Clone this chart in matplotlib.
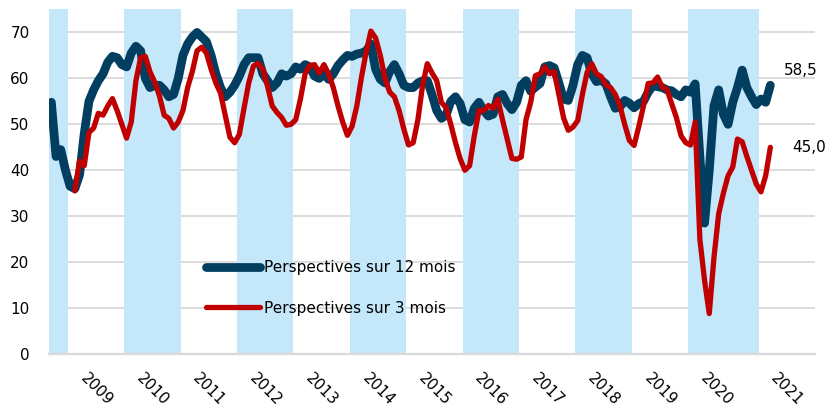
import numpy as np
import matplotlib.pyplot as plt

# monthly survey balances, sept 2008 -> march 2021 (2020 has 15 releases)
years = ["2009", "2010", "2011", "2012", "2013", "2014", "2015",
         "2016", "2017", "2018", "2019", "2020", "2021"]
points_per_year = [4] + [12] * 11 + [15, 12]   # first block = end of 2008

outlook_12m = [
    54.8, 43, 44.5, 40, 36.5, 36, 39, 48, 55, 57.5, 59.5, 61, 63.5, 64.8, 64.5, 63,
    62.5, 65.5, 67, 66, 60, 58, 58.5, 58.5, 57.5, 56, 56.5, 60, 65, 67.5, 69, 70,
    69, 68, 65, 61, 58, 56, 57, 58.5, 60.5, 63, 64.5, 64.5, 64.5, 61, 59.5, 58,
    59, 61, 60.5, 61, 62.5, 62, 63, 62.5, 60.5, 60, 61, 59.8, 61, 62.8, 64, 65,
    64.8, 65.3, 65.5, 66, 67.5, 62, 59.8, 59, 61.5, 63, 61, 58.5, 58, 58, 59, 59.5,
    59.5, 56.5, 53, 51.3, 52, 55, 56, 54.5, 51, 50.5, 53.5, 54.8, 53, 51.8, 52.2, 56,
    56.5, 54.5, 53.2, 54.8, 58.5, 59.5, 57.2, 58.1, 58.9, 62.5, 62.8, 62.3, 59, 55.5,
    55.2, 58.5, 63, 65, 64.5, 61, 59.3, 59.6, 58.8, 56, 53.5, 53.8, 55.2, 54.6, 53.6,
    54.5, 55, 57, 58.4, 58.2, 58, 57.5, 57.3, 56.5, 56, 57.5, 57, 58.8, 43, 28.5,
    40, 54, 57.5, 52.2, 50, 54.8, 58, 61.8, 58, 56, 54.3, 55.5, 54.8, 58.5,
]

outlook_3m = [np.nan] * 5 + [
    35.5, 42, 41, 48.2, 49.2, 52.4, 52, 54, 55.6, 53, 50, 47, 50.5, 59.5, 64.5, 64.8,
    61.4, 59.2, 56.2, 52, 51.3, 49.2,
    50.5, 53, 58, 61.5, 66, 66.8, 65.5, 62, 59, 56.8, 52, 47.2, 46, 47.8, 53.5, 59,
    62.7, 63.3, 62, 58.3, 54, 52.6, 51.5, 49.8, 50, 51,
    55.5, 61, 62.8, 63, 61.2, 63, 61, 58, 54, 50.5, 47.6, 49.6, 54, 60.3, 65.8, 70.3,
    68.8, 65, 60, 57, 56, 53, 49, 45.5, 46, 51,
    58.5, 63.2, 61.2, 59.5, 54.8, 53.6, 50, 46, 42.5, 40, 41, 47.5, 53, 53, 54.1, 53.5,
    55.5, 51, 46.8, 42.6, 42.4, 42.9, 51, 54.8, 60.6, 61, 62.5,
    61, 61.5, 56.5, 51.4, 48.7, 49.4, 50.8, 56.5, 61.3, 63.2, 61, 60.4, 58.6, 58, 56.5,
    54, 50, 46.5, 45.4, 49.5, 54, 58.9, 59, 60.3, 58.1, 57.6, 54.5,
    51.5, 47.5, 46, 45.5, 50.5, 25, 16, 8.8, 21, 30.5, 35, 38.8, 40.7, 46.8, 46.2, 43,
    40, 37, 35.3, 38.8, 45,
]

blue = "#013E60"
red = "#C00000"
band = "#C4E7FA"

plt.rcParams["font.family"] = "DejaVu Sans"

fig = plt.figure(figsize=(8.26, 4.11), dpi=100)
ax = fig.add_axes([49 / 826, 57 / 411, 766 / 826, 344.5 / 411])

x = np.arange(len(outlook_12m)) + 0.5
starts = np.concatenate([[0], np.cumsum(points_per_year)])

# shaded blocks: end of 2008, then every other year
for k in range(0, len(points_per_year) - 1, 2):
    ax.axvspan(starts[k], starts[k + 1], color=band, lw=0, zorder=1)

ax.plot(x, outlook_12m, color=blue, lw=6.3, solid_capstyle="round",
        solid_joinstyle="round", zorder=3, label="Perspectives sur 12 mois")
ax.plot(x, outlook_3m, color=red, lw=3.8, solid_capstyle="round",
        solid_joinstyle="round", zorder=4, label="Perspectives sur 3 mois")

ax.annotate("58,5", (x[-1], outlook_12m[-1]), xytext=(10, 11),
            textcoords="offset points", ha="left", va="center", fontsize=11)
ax.annotate("45,0", (x[-1], outlook_3m[-1]), xytext=(16, 0),
            textcoords="offset points", ha="left", va="center", fontsize=11)

ax.set_xlim(0, starts[-1])
ax.set_ylim(0, 75)
ax.set_yticks(range(0, 80, 10))
ax.set_xticks(starts[1:-1] + 4.3)
ax.set_xticklabels(years, rotation=-45, ha="left", va="top",
                   rotation_mode="anchor", fontsize=11)
ax.tick_params(axis="x", length=0, pad=12)
ax.tick_params(axis="y", length=0, pad=14, labelsize=11)

ax.grid(axis="y", color="#D9D9D9", lw=1.3, zorder=0)
ax.set_axisbelow(True)
for s in ["top", "right", "left"]:
    ax.spines[s].set_visible(False)
ax.spines["bottom"].set_color("#D9D9D9")
ax.spines["bottom"].set_linewidth(1.6)
ax.spines["bottom"].set_zorder(2)

leg = ax.legend(loc="upper left", bbox_to_anchor=(0.205, 0.272), frameon=False,
                fontsize=11, handlelength=3.5, handletextpad=0.3,
                labelspacing=1.65, borderpad=0, borderaxespad=0)

plt.savefig("out.png", dpi=100)
